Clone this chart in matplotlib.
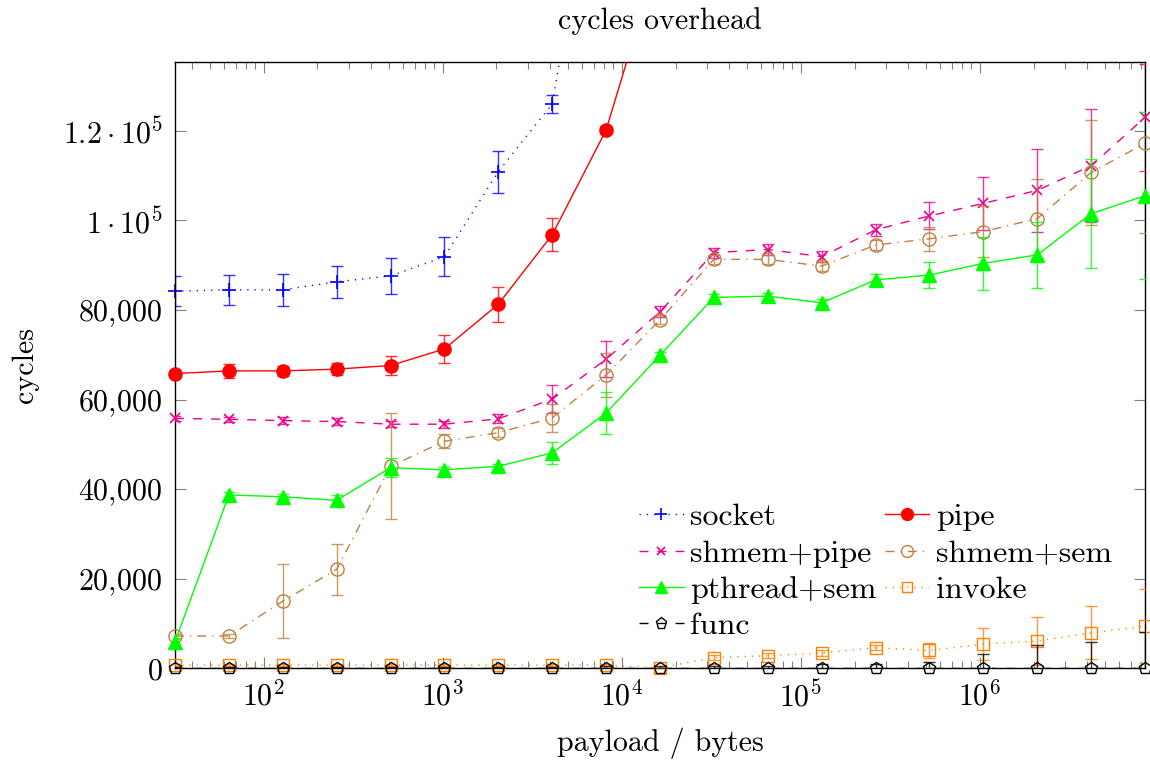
import numpy as np
import matplotlib
matplotlib.use("Agg")
import matplotlib.pyplot as plt
from matplotlib.ticker import FixedLocator, FixedFormatter, LogLocator, NullFormatter

plt.rcParams['font.family'] = ['cmr10', 'DejaVu Serif']
plt.rcParams['mathtext.fontset'] = 'cm'
plt.rcParams['axes.unicode_minus'] = False
plt.rcParams['axes.formatter.use_mathtext'] = True

nan = np.nan
payload = [32, 64, 128, 256, 512, 1024, 2048, 4096, 8192, 16384, 32768, 65536,
           131072, 262144, 524288, 1048576, 2097152, 4194304, 8388608]

socket = [84200, 84500, 84500, 86300, 87600, 91900, 110900, 126000, 196000,
          nan, nan, nan, nan, nan, nan, nan, nan, nan, nan]
socket_err = [3400, 3400, 3500, 3600, 4000, 4400, 4700, 2000, 2000,
              nan, nan, nan, nan, nan, nan, nan, nan, nan, nan]

pipe = [65800, 66400, 66400, 66800, 67600, 71300, 81300, 96800, 120200, 160000,
        nan, nan, nan, nan, nan, nan, nan, nan, nan]
pipe_err = [800, 1500, 1200, 1300, 2100, 3100, 3900, 3700, 800, 1000,
            nan, nan, nan, nan, nan, nan, nan, nan, nan]

shmem_pipe = [55800, 55600, 55300, 55100, 54500, 54500, 55700, 60100, 69000, 79600,
              92800, 93500, 91900, 97900, 101000, 103800, 106700, 112200, 123000]
shmem_pipe_err = [600, 500, 700, 700, 700, 800, 1000, 3200, 4000, 1200,
                  1100, 1200, 1200, 1300, 3000, 5900, 9200, 12600, 12000]

shmem_sem = [7200, 7200, 15000, 22100, 45100, 50700, 52600, 55900, 65500, 77800,
             91300, 91300, 89800, 94500, 95900, 97500, 100400, 110700, 117200]
shmem_sem_err = [400, 400, 8300, 5700, 11800, 1600, 1000, 3200, 5000, 1000,
                 1000, 1000, 1000, 1200, 2700, 5700, 8900, 11700, 20000]

pthread_sem = [5900, 38700, 38300, 37500, 44800, 44300, 45100, 48100, 57000, 69900,
               82800, 83100, 81600, 86700, 87800, 90400, 92300, 101500, 105500]
pthread_sem_err = [600, 600, 600, 1300, 2200, 600, 600, 2500, 4800, 700,
                   800, 800, 800, 1400, 2900, 6000, 7300, 12100, 18600]

invoke = [700, 700, 700, 700, 700, 700, 700, 700, 700, 100,
          2400, 2800, 3400, 4600, 4000, 5400, 6100, 7900, 9400]
invoke_err = [200, 200, 200, 200, 200, 200, 200, 200, 200, 200,
              600, 600, 700, 600, 1700, 3500, 5400, 5900, 8300]

func = [0] * 19
func_err = [300, 300, 300, 300, 300, 300, 300, 300, 500, 500,
            500, 600, 900, 900, 1500, 3300, 5100, 5800, 8000]

ytick_vals = [0, 20000, 40000, 60000, 80000, 100000, 120000]
ytick_labels = [r"$0$", r"$20{,}000$", r"$40{,}000$", r"$60{,}000$", r"$80{,}000$",
                r"$1\cdot10^{5}$", r"$1.2\cdot10^{5}$"]

FS = 21.6
LFS = 23
W, H = 1150, 763
fig = plt.figure(figsize=(W / 100, H / 100), dpi=100)
L, R, T, B = 175, 1145, 62.3, 668.3
ax = fig.add_axes([L / W, 1 - B / H, (R - L) / W, (B - T) / H])

YMAX = 135300
ax.set_xscale('log')
ax.set_xlim(payload[0], payload[-1])
ax.set_ylim(0, YMAX)

dashed = (0, (6.5, 6.5))
dotted = (0, (0.9, 4.3))
dashdot = (0, (6.5, 4.3, 0.9, 4.3))

series = [
    ("socket", socket, socket_err, '#0000FF', dotted, '+', 'full', 10),
    ("pipe", pipe, pipe_err, '#FF0000', '-', 'o', 'full', 9.5),
    ("shmem+pipe", shmem_pipe, shmem_pipe_err, '#EC008C', dashed, 'x', 'none', 6.5),
    ("shmem+sem", shmem_sem, shmem_sem_err, '#BF8040', dashdot, 'o', 'none', 9.5),
    ("pthread+sem", pthread_sem, pthread_sem_err, '#00FF00', '-', '^', 'full', 9.5),
    ("invoke", invoke, invoke_err, '#FF8000', dotted, 's', 'none', 8.5),
    ("func", func, func_err, '#000000', dashed, 'p', 'none', 9),
]

handles = {}
x = np.array(payload, dtype=float)
for i, (name, vals, errs, col, ls, mk, fill, ms) in enumerate(series):
    y = np.array(vals, dtype=float)
    e = np.array(errs, dtype=float)
    z = 2 + i
    ax.errorbar(x, y, yerr=e, fmt='none', ecolor=col, elinewidth=1.0,
                capsize=4.5, capthick=1.0, alpha=0.8, zorder=z)
    ax.plot(x, y, color=col, linestyle=ls, linewidth=1.0, zorder=z + 0.1)
    inside = y <= YMAX
    mfc = col if fill == 'full' else 'none'
    mew = 1.2 if mk in ('+', 'x') else 1.0
    ax.plot(x[inside], y[inside], linestyle='none', marker=mk, markersize=ms,
            markerfacecolor=mfc, markeredgecolor=col, markeredgewidth=mew,
            clip_on=False, zorder=z + 0.2)
    h, = ax.plot([], [], color=col, linestyle=ls, linewidth=1.0, marker=mk,
                 markersize=ms * 0.9, markerfacecolor=mfc, markeredgecolor=col,
                 markeredgewidth=mew)
    handles[name] = h

order = ["socket", "shmem+pipe", "pthread+sem", "func", "pipe", "shmem+sem", "invoke"]
leg = ax.legend([handles[n] for n in order], order, ncol=2, loc='upper left',
                bbox_to_anchor=((639 - L) / (R - L), (B - 503) / (B - T)),
                frameon=False, fontsize=LFS, handlelength=1.4, handletextpad=0.2,
                columnspacing=0.25, labelspacing=0.25, borderpad=0, borderaxespad=0,
                numpoints=1)

# ticks
ax.yaxis.set_major_locator(FixedLocator(ytick_vals))
ax.yaxis.set_major_formatter(FixedFormatter(ytick_labels))
ax.xaxis.set_major_locator(LogLocator(base=10, numticks=20))
ax.xaxis.set_minor_locator(LogLocator(base=10, subs=np.arange(2, 10), numticks=20))
ax.xaxis.set_minor_formatter(NullFormatter())
ax.tick_params(axis='both', which='major', direction='in', length=8, width=0.8,
               color='#808080', labelsize=FS, top=True, right=True, pad=9)
ax.tick_params(axis='x', which='minor', direction='in', length=4.8, width=0.8,
               color='#808080', top=True, bottom=True)
ax.tick_params(axis='y', which='minor', left=False, right=False)
for s in ax.spines.values():
    s.set_linewidth(1.0)
    s.set_color('black')

ax.set_title("cycles overhead", fontsize=FS, pad=24)
ax.set_xlabel("payload / bytes", fontsize=FS, labelpad=11)
ax.set_ylabel("cycles", fontsize=FS, labelpad=17)

fig.savefig("out.png", dpi=100)
